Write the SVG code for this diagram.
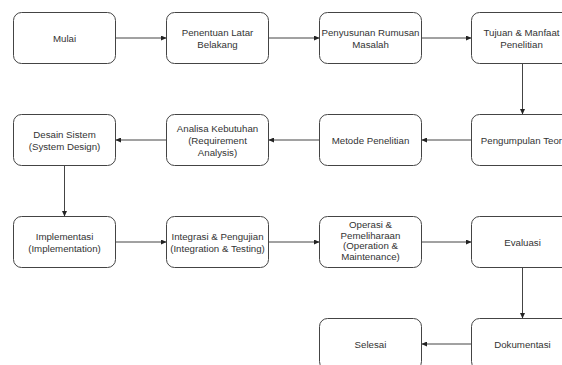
<svg xmlns="http://www.w3.org/2000/svg" width="562" height="365" viewBox="0 0 562 365">
<defs>
<marker id="arr" markerWidth="6" markerHeight="5" refX="5.5" refY="2.5" orient="auto" markerUnits="userSpaceOnUse">
<path d="M0,0 L5.5,2.5 L0,5 z" fill="#222"/>
</marker>
<style>
.box{fill:#fff;stroke:#444;stroke-width:1}
.t{font-family:"Liberation Sans",Arial,sans-serif;font-size:9.7px;fill:#333;text-anchor:middle}
.c{fill:none;stroke:#444;stroke-width:1;marker-end:url(#arr)}
</style>
</defs>
<rect width="562" height="365" fill="#fff"/>
<g id="connectors">
<path class="c" d="M115.5,38 H166.5"/>
<path class="c" d="M268.5,38 H319.5"/>
<path class="c" d="M421.5,38 H471.5"/>
<path class="c" d="M522.5,63.5 V114.5"/>
<path class="c" d="M471.5,140 H421.5"/>
<path class="c" d="M319.5,140 H268.5"/>
<path class="c" d="M166.5,140 H115.5"/>
<path class="c" d="M64.5,165.5 V216.5"/>
<path class="c" d="M115.5,242 H166.5"/>
<path class="c" d="M268.5,242 H319.5"/>
<path class="c" d="M421.5,242 H471.5"/>
<path class="c" d="M522.5,267.5 V318.5"/>
<path class="c" d="M471.5,344 H421.5"/>
</g>
<g id="mulai"><rect class="box" x="13.5" y="12.5" width="102" height="51" rx="8"/><text class="t" x="64.5" y="41.5">Mulai</text></g>
<g id="penentuan"><rect class="box" x="166.5" y="12.5" width="102" height="51" rx="8"/><text class="t" x="217.5" y="35.5">Penentuan Latar</text><text class="t" x="217.5" y="47.5">Belakang</text></g>
<g id="penyusunan"><rect class="box" x="319.5" y="12.5" width="102" height="51" rx="8"/><text class="t" x="370.5" y="35.5">Penyusunan Rumusan</text><text class="t" x="370.5" y="47.5">Masalah</text></g>
<g id="tujuan"><rect class="box" x="471.5" y="12.5" width="102" height="51" rx="8"/><text class="t" x="521.5" y="35.5">Tujuan &amp; Manfaat</text><text class="t" x="521.5" y="47.5">Penelitian</text></g>
<g id="pengumpulan"><rect class="box" x="471.5" y="114.5" width="102" height="51" rx="8"/><text class="t" x="522.5" y="143.5">Pengumpulan Teori</text></g>
<g id="metode"><rect class="box" x="319.5" y="114.5" width="102" height="51" rx="8"/><text class="t" x="370.5" y="143.5">Metode Penelitian</text></g>
<g id="analisa"><rect class="box" x="166.5" y="114.5" width="102" height="51" rx="8"/><text class="t" x="217.5" y="131.5">Analisa Kebutuhan</text><text class="t" x="217.5" y="143.5">(Requirement</text><text class="t" x="217.5" y="155.5">Analysis)</text></g>
<g id="desain"><rect class="box" x="13.5" y="114.5" width="102" height="51" rx="8"/><text class="t" x="64.5" y="137.5">Desain Sistem</text><text class="t" x="64.5" y="149.5">(System Design)</text></g>
<g id="implementasi"><rect class="box" x="13.5" y="216.5" width="102" height="51" rx="8"/><text class="t" x="64.5" y="239.5">Implementasi</text><text class="t" x="64.5" y="251.5">(Implementation)</text></g>
<g id="integrasi"><rect class="box" x="166.5" y="216.5" width="102" height="51" rx="8"/><text class="t" x="217.5" y="239.5">Integrasi &amp; Pengujian</text><text class="t" x="217.5" y="251.5">(Integration &amp; Testing)</text></g>
<g id="operasi"><rect class="box" x="319.5" y="216.5" width="102" height="51" rx="8"/><text class="t" x="370.5" y="228">Operasi &amp;</text><text class="t" x="370.5" y="238.5">Pemeliharaan</text><text class="t" x="370.5" y="249">(Operation &amp;</text><text class="t" x="370.5" y="259.5">Maintenance)</text></g>
<g id="evaluasi"><rect class="box" x="471.5" y="216.5" width="102" height="51" rx="8"/><text class="t" x="522.5" y="245.5">Evaluasi</text></g>
<g id="dokumentasi"><rect class="box" x="471.5" y="318.5" width="102" height="51" rx="8"/><text class="t" x="522.5" y="347.5">Dokumentasi</text></g>
<g id="selesai"><rect class="box" x="319.5" y="318.5" width="102" height="51" rx="8"/><text class="t" x="370.5" y="347.5">Selesai</text></g>
</svg>
